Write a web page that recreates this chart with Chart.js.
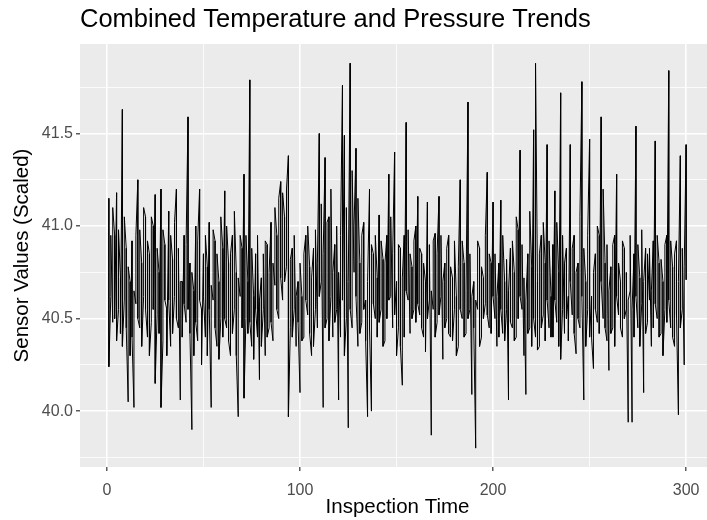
<!DOCTYPE html>
<html>
<head>
<meta charset="utf-8">
<script src="https://cdn.jsdelivr.net/npm/chart.js@4/dist/chart.umd.min.js"></script>
<style>
  html, body { margin: 0; padding: 0; background: #ffffff; overflow: hidden; }
  /* the source plot is cut a little on its right side, so the panel runs past the window edge */
  #wrap { width: 723px; height: 520px; }
</style>
</head>
<body>
<div id="wrap"><canvas id="sensorChart" width="723" height="520"></canvas></div>
<script>
// inspection time axis (1..300)
var inspectionTime = Array.from({ length: 300 }, function (_, i) { return i + 1 })

// temperature readings (scaled)
var temperature = [
  41.15, 40.62, 40.48, 40.95, 41.18, 40.55, 40.72, 41.63, 40.60, 40.88,
  40.05, 40.70, 40.92, 40.02, 40.58, 41.25, 40.45, 40.80, 40.62, 41.05,
  40.40, 40.85, 40.48, 41.00, 41.17, 40.52, 40.75, 41.20, 40.38, 40.90,
  40.55, 41.08, 40.35, 40.82, 40.62, 41.20, 40.45, 40.06, 40.70, 40.95,
  40.48, 41.59, 40.80, 39.90, 40.65, 41.00, 40.38, 41.20, 40.55, 40.85,
  40.40, 40.78, 41.02, 40.02, 40.60, 40.92, 40.35, 40.70, 40.50, 40.88,
  41.19, 40.45, 40.80, 40.30, 40.95, 40.55, 40.75, 39.97, 40.62, 40.88,
  41.28, 40.50, 40.70, 41.79, 40.35, 40.62, 40.85, 40.40, 40.17, 40.72,
  40.55, 40.30, 40.90, 40.45, 41.02, 40.38, 40.68, 40.95, 40.50, 41.24,
  40.60, 41.05, 40.78, 41.38, 40.45, 40.88, 40.55, 40.35, 40.70, 40.10,
  40.62, 40.40, 40.95, 40.52, 40.78, 40.30, 40.88, 40.55, 40.45, 41.50,
  40.70, 40.02, 41.37, 40.50, 41.05, 40.62, 40.40, 40.90, 40.55, 40.06,
  40.40, 41.76, 41.49, 40.50, 39.91, 41.88, 40.45, 40.75, 41.42, 40.35,
  40.80, 40.48, 41.02, 40.60, 39.97, 41.20, 40.00, 40.85, 40.50, 40.72,
  41.06, 40.55, 40.82, 40.38, 40.95, 41.28, 40.62, 40.45, 41.40, 40.70,
  40.45, 40.88, 40.14, 40.95, 41.56, 40.60, 40.42, 40.78, 40.55, 41.00,
  41.16, 40.52, 40.85, 40.40, 40.70, 41.13, 40.60, 39.87, 40.55, 40.96,
  40.48, 41.16, 40.62, 40.28, 40.80, 40.50, 40.95, 40.40, 40.72, 40.55,
  40.62, 40.35, 41.25, 40.50, 40.80, 40.42, 41.67, 40.55, 40.09, 40.70,
  39.80, 40.55, 40.88, 40.40, 40.72, 40.58, 41.29, 40.45, 40.80, 41.13,
  40.50, 40.35, 40.80, 41.14, 40.42, 40.70, 40.55, 40.06, 40.88, 40.45,
  40.75, 40.40, 40.98, 41.41, 40.55, 40.30, 40.09, 40.85, 40.45, 40.78,
  41.52, 40.40, 40.70, 40.35, 40.95, 40.52, 40.80, 41.44, 40.45, 40.62,
  40.90, 41.19, 40.48, 40.75, 41.72, 40.55, 40.42, 40.88, 40.62, 41.44,
  40.52, 40.95, 40.31, 40.80, 40.45, 41.78, 40.06, 40.70, 40.55, 41.47,
  40.62, 40.23, 40.85, 40.48, 40.95, 41.59, 40.50, 40.80, 40.38, 40.22,
  40.78, 40.45, 40.95, 41.28, 40.52, 40.70, 40.40, 40.88, 40.55, 39.94,
  40.65, 39.94, 40.85, 41.54, 40.45, 40.72, 40.58, 40.10, 40.88, 40.48,
  40.60, 40.35, 40.92, 41.46, 40.50, 40.80, 40.42, 40.70, 40.55, 40.95,
  41.84, 40.45, 40.78, 40.35, 40.92, 39.98, 41.38, 40.55, 40.25, 41.44
]

// pressure readings (scaled)
var pressure = [
  40.24, 40.95, 41.10, 40.50, 40.38, 40.98, 40.42, 40.35, 41.05, 40.45,
  40.78, 40.30, 40.40, 40.65, 40.95, 40.50, 40.98, 40.35, 41.10, 40.55,
  40.92, 40.30, 41.05, 40.55, 40.15, 40.88, 40.42, 40.02, 40.98, 40.60,
  40.30, 40.60, 40.95, 40.42, 41.02, 40.50, 40.88, 40.70, 40.40, 40.58,
  40.90, 40.55, 40.42, 40.75, 40.30, 40.48, 40.92, 40.60, 40.25, 40.62,
  40.95, 40.30, 40.55, 40.68, 40.98, 40.45, 40.85, 40.28, 41.05, 40.40,
  40.50, 41.00, 40.38, 40.85, 40.42, 41.08, 40.30, 40.72, 40.95, 40.45,
  40.07, 40.95, 40.42, 40.48, 40.88, 40.28, 40.55, 40.95, 40.60, 40.35,
  40.85, 40.92, 40.40, 40.75, 40.48, 40.80, 41.10, 40.55, 41.15, 40.72,
  41.18, 40.70, 41.20, 39.97, 40.82, 40.40, 40.95, 40.62, 40.48, 40.80,
  40.38, 40.85, 40.60, 41.00, 40.42, 40.72, 40.35, 40.98, 40.80, 40.62,
  41.12, 40.85, 40.45, 41.02, 40.38, 41.20, 40.75, 40.48, 41.00, 40.75,
  40.95, 40.60, 40.30, 41.10, 40.70, 40.55, 41.30, 41.00, 40.62, 41.15,
  40.42, 40.95, 40.55, 40.38, 40.70, 40.45, 40.90, 40.58, 40.95, 40.40,
  40.48, 40.92, 40.35, 40.80, 40.50, 40.60, 41.05, 40.85, 40.52, 40.30,
  40.90, 40.35, 40.72, 40.40, 40.65, 40.98, 40.85, 40.50, 40.92, 40.48,
  40.58, 40.88, 40.45, 40.80, 40.32, 40.50, 40.90, 40.65, 40.92, 40.40,
  40.85, 40.52, 40.95, 40.70, 40.45, 40.88, 40.42, 40.78, 40.38, 40.92,
  40.30, 40.78, 40.55, 40.92, 40.40, 40.65, 40.50, 40.85, 40.62, 40.45,
  40.60, 40.92, 40.35, 40.78, 40.50, 40.95, 40.52, 40.85, 40.42, 40.62,
  40.85, 40.62, 40.40, 40.55, 40.95, 40.38, 40.82, 40.65, 40.48, 40.92,
  40.38, 41.05, 40.50, 40.62, 40.90, 40.72, 40.60, 40.42, 41.08, 40.35,
  40.50, 41.88, 40.33, 40.85, 40.45, 41.02, 40.38, 40.60, 40.92, 40.40,
  40.40, 40.60, 41.02, 40.35, 40.28, 40.95, 40.80, 40.50, 40.38, 40.70,
  40.88, 40.42, 40.75, 40.50, 41.05, 40.62, 40.88, 40.35, 40.95, 40.40,
  40.40, 40.75, 40.55, 41.00, 40.42, 40.70, 41.20, 40.45, 40.90, 40.65,
  40.42, 40.90, 40.35, 40.62, 40.80, 40.45, 40.92, 40.50, 40.75, 40.60,
  40.95, 40.55, 40.40, 40.62, 40.90, 40.35, 40.98, 40.70, 40.42, 40.85,
  40.88, 40.65, 40.45, 40.58, 40.95, 40.40, 40.82, 40.30, 40.90, 40.48,
  40.60, 40.92, 40.40, 40.85, 40.52, 40.70, 40.45, 40.88, 40.78, 40.71
]

// axis breaks
var xMajor = [0, 100, 200, 300]
var xMinor = [50, 150, 250]
var yMajor = [40.0, 40.5, 41.0, 41.5]
var yMinor = [39.75, 40.25, 40.75, 41.25, 41.75]

var titleText = 'Combined Temperature and Pressure Trends'
var fontFamily = '"Liberation Sans", Arial, sans-serif'

// both readings share the same time stamp, so the path goes temp -> pressure -> next time
var points = []
for (var i = 0; i < inspectionTime.length; i++) {
  points.push({ x: inspectionTime[i], y: temperature[i] })
  points.push({ x: inspectionTime[i], y: pressure[i] })
}

function isIn(list, v) {
  return list.some(function (m) { return Math.abs(m - v) < 1e-6 })
}

var panelBg = {
  id: 'panelBg',
  beforeDraw: function (chart) {
    var a = chart.chartArea
    var c = chart.ctx
    c.save()
    c.fillStyle = '#EBEBEB'
    c.fillRect(a.left, a.top, a.right - a.left, a.bottom - a.top)
    c.restore()
  },
  afterDraw: function (chart) {
    // title sits over the panel, left aligned with it (ggplot style)
    var c = chart.ctx
    c.save()
    c.fillStyle = '#000000'
    c.font = '25.5px ' + fontFamily
    c.textBaseline = 'top'
    c.textAlign = 'left'
    c.fillText(titleText, chart.chartArea.left, 7)
    c.restore()
  }
}

var ctx = document.getElementById('sensorChart').getContext('2d')
var sensorChart = new Chart(ctx, {
  type: 'line',
  data: {
    datasets: [{
      data: points,
      borderColor: '#000000',
      borderWidth: 1,
      pointRadius: 0,
      fill: false,
      tension: 0
    }]
  },
  plugins: [panelBg],
  options: {
    responsive: false,
    animation: false,
    layout: { padding: { top: 44, right: 8, left: 0, bottom: 0 } },
    plugins: {
      legend: { display: false },
      tooltip: { enabled: false }
    },
    scales: {
      x: {
        type: 'linear',
        min: -13.95,
        max: 314.95,
        afterBuildTicks: function (scale) {
          scale.ticks = xMajor.concat(xMinor).sort(function (a, b) { return a - b })
            .map(function (v) { return { value: v } })
        },
        afterFit: function (scale) { scale.height = 53 },
        border: { display: false },
        grid: {
          color: '#FFFFFF',
          lineWidth: function (c) { return isIn(xMajor, c.tick.value) ? 1.6 : 0.8 },
          tickColor: function (c) { return isIn(xMajor, c.tick.value) ? '#333333' : 'rgba(0,0,0,0)' },
          tickLength: 4,
          tickWidth: 1.2
        },
        ticks: {
          autoSkip: false,
          maxRotation: 0,
          padding: 10,
          color: '#4D4D4D',
          font: { family: fontFamily, size: 16 },
          callback: function (v) { return isIn(xMajor, v) ? String(v) : '' }
        },
        title: {
          display: true,
          text: 'Inspection Time',
          color: '#000000',
          font: { family: fontFamily, size: 20.5 },
          padding: { top: 0, bottom: 0 }
        }
      },
      y: {
        type: 'linear',
        min: 39.698,
        max: 41.984,
        afterBuildTicks: function (scale) {
          scale.ticks = yMajor.concat(yMinor).sort(function (a, b) { return a - b })
            .map(function (v) { return { value: v } })
        },
        afterFit: function (scale) { scale.width = 80 },
        border: { display: false },
        grid: {
          color: '#FFFFFF',
          lineWidth: function (c) { return isIn(yMajor, c.tick.value) ? 1.6 : 0.8 },
          tickColor: function (c) { return isIn(yMajor, c.tick.value) ? '#333333' : 'rgba(0,0,0,0)' },
          tickLength: 4,
          tickWidth: 1.2
        },
        ticks: {
          autoSkip: false,
          padding: 3,
          color: '#4D4D4D',
          font: { family: fontFamily, size: 16 },
          callback: function (v) { return isIn(yMajor, v) ? v.toFixed(1) : '' }
        },
        title: {
          display: true,
          text: 'Sensor Values (Scaled)',
          color: '#000000',
          font: { family: fontFamily, size: 20.5 },
          padding: { top: 10, bottom: 0 }
        }
      }
    }
  }
})
</script>
</body>
</html>
